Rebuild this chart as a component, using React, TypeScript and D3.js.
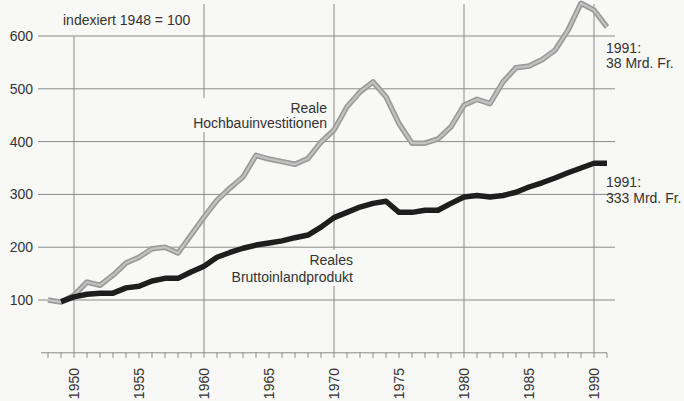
import React from 'react';
import * as d3 from 'd3';

// index 1948 = 100
const hochbauYears = d3.range(1948, 1992);
const hochbauValues = [
  100, 96, 109, 134, 128, 147, 170, 181, 197, 200, 189, 223,
  257, 289, 312, 333, 374, 367, 362, 357, 368, 399,
  422, 466, 494, 513, 485, 434, 397, 397, 405, 428,
  469, 480, 472, 513, 540, 543, 555, 573, 611, 662, 649, 617,
];

const bipYears = d3.range(1949, 1992);
const bipValues = [
  97, 106, 111, 113, 113, 123, 126, 136, 141, 141, 153,
  164, 181, 190, 198, 204, 208, 212, 218, 223, 238,
  256, 266, 276, 283, 287, 266, 266, 270, 270, 283,
  295, 298, 295, 298, 304, 314, 322, 331, 341, 350, 359, 359,
];

const yTicks = [100, 200, 300, 400, 500, 600];
const decadeLines = [1950, 1960, 1970, 1980, 1990];
const labelYears = [1950, 1955, 1960, 1965, 1970, 1975, 1980, 1985, 1990];

const W = 684;
const H = 401;
const BG = '#f8f8f6';
const INK = '#333';
const GRID = '#8a8a8a';
const FONT = '"Liberation Sans", Arial, sans-serif';

export default function App() {
  const x = d3.scaleLinear().domain([1948, 1991]).range([48, 607]);
  const y = d3.scaleLinear().domain([0, 600]).range([352.8, 36]);

  const line = d3
    .line<[number, number]>()
    .x((d) => x(d[0]))
    .y((d) => y(d[1]));

  const hochbau = line(hochbauYears.map((yr, i) => [yr, hochbauValues[i]]))!;
  const bip = line(bipYears.map((yr, i) => [yr, bipValues[i]]))!;
  const baseY = y(0);
  const tickYears = d3.range(1948, 1992);

  return (
    <svg
      width={W}
      height={H}
      style={{ position: 'absolute', left: 0, top: 0 }}
      fontFamily={FONT}
    >
      <rect width={W} height={H} fill={BG} />

      {/* horizontal grid */}
      {yTicks.map((t) => (
        <g key={t}>
          <line x1={38} x2={615} y1={y(t)} y2={y(t)} stroke={GRID} strokeWidth={1} />
          <text x={33} y={y(t)} dy="0.36em" textAnchor="end" fontSize={14} fill={INK}>
            {t}
          </text>
        </g>
      ))}

      {/* vertical grid */}
      {decadeLines.map((yr) => (
        <line
          key={yr}
          x1={x(yr)}
          x2={x(yr)}
          y1={yr === 1950 ? y(600) : 4}
          y2={baseY}
          stroke={GRID}
          strokeWidth={1}
        />
      ))}

      {/* series labels */}
      <rect x={186} y={98} width={144} height={34} fill={BG} />
      <text x={327} y={113} textAnchor="end" fontSize={14} fill={INK}>Reale</text>
      <text x={327} y={128} textAnchor="end" fontSize={14} fill={INK}>Hochbauinvestitionen</text>

      <rect x={226} y={250} width={130} height={36} fill={BG} />
      <text x={353} y={265} textAnchor="end" fontSize={14} fill={INK}>Reales</text>
      <text x={353} y={282} textAnchor="end" fontSize={14} fill={INK}>Bruttoinlandprodukt</text>

      <text x={63} y={25} fontSize={14} fill={INK}>indexiert 1948 = 100</text>

      {/* lines */}
      <path d={hochbau} fill="none" stroke="#9a9a9a" strokeWidth={5.5} strokeLinejoin="round" />
      <path d={hochbau} fill="none" stroke="#c2c2c2" strokeWidth={2.2} strokeLinejoin="round" />
      <path d={bip} fill="none" stroke="#1e1e1e" strokeWidth={5.5} strokeLinejoin="round" />

      {/* end annotations */}
      <text x={x(1991) - 1} y={53} fontSize={14} fill={INK}>1991:</text>
      <text x={x(1991) - 1} y={68} fontSize={14} fill={INK}>38 Mrd. Fr.</text>
      <text x={x(1991) - 1} y={187} fontSize={14} fill={INK}>1991:</text>
      <text x={x(1991) - 1} y={203} fontSize={14} fill={INK}>333 Mrd. Fr.</text>

      {/* x axis */}
      <line x1={41} x2={607} y1={baseY} y2={baseY} stroke={GRID} strokeWidth={1} />
      {tickYears.map((yr) => (
        <line key={yr} x1={x(yr)} x2={x(yr)} y1={baseY} y2={baseY + 5} stroke={GRID} strokeWidth={1} />
      ))}
      {labelYears.map((yr) => (
        <text
          key={yr}
          transform={`translate(${x(yr)},368) rotate(-90)`}
          textAnchor="end"
          dy="0.36em"
          fontSize={14}
          fill={INK}
        >
          {yr}
        </text>
      ))}
    </svg>
  );
}
